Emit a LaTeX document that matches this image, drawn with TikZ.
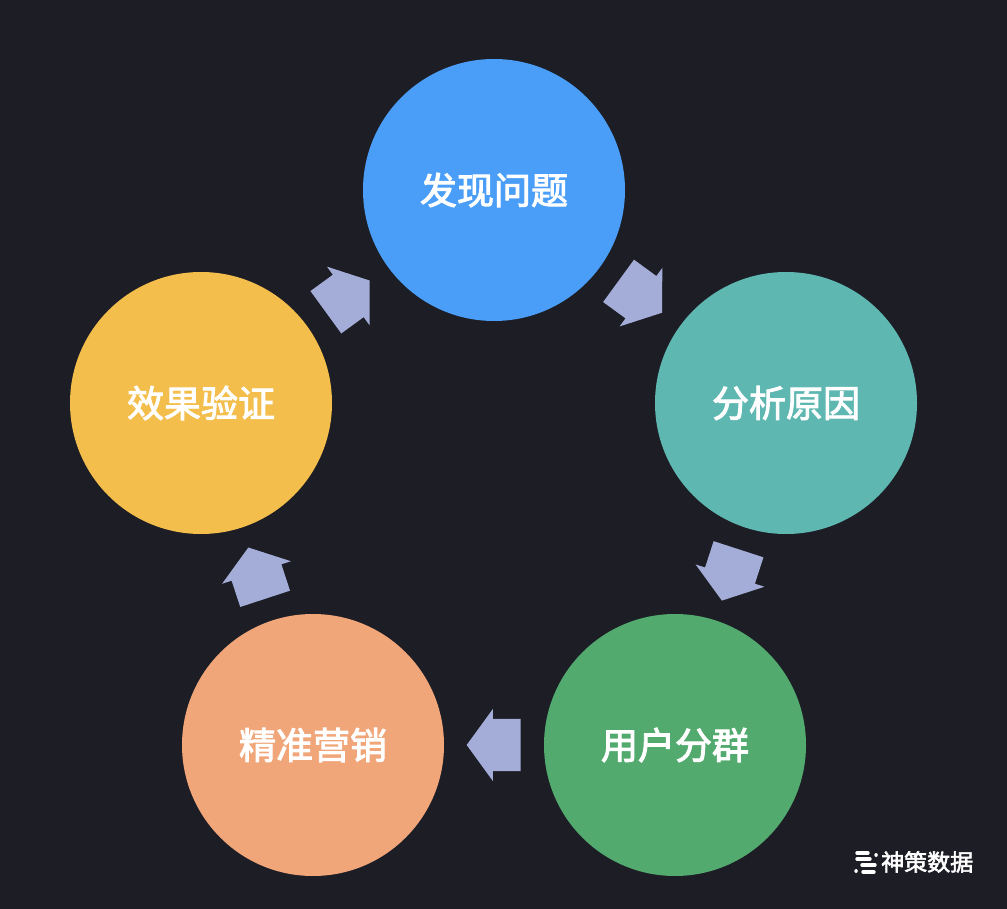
\documentclass[tikz,border=0pt]{standalone}
\usepackage{fontspec}
\newfontfamily\cjk[FakeBold=2.6]{Noto Sans CJK SC}
\usetikzlibrary{shapes.arrows}
\definecolor{bgdark}{HTML}{1C1D25}
\definecolor{findblue}{HTML}{4A9EF8}
\definecolor{causeteal}{HTML}{5FB7B2}
\definecolor{groupgreen}{HTML}{53AA6E}
\definecolor{mktorange}{HTML}{F1A67A}
\definecolor{checkyellow}{HTML}{F4BE4C}
\definecolor{flowgray}{HTML}{A4ADD8}
\begin{document}
\begin{tikzpicture}[x=1pt,y=-1pt,
	stage/.style={circle,minimum size=262pt,inner sep=0pt,text=white,font=\cjk\fontsize{37}{37}\selectfont},
	flow/.style={single arrow,fill=flowgray,inner xsep=0pt,inner ysep=26pt,minimum height=54pt,
		single arrow head extend=10pt,single arrow tip angle=108,sloped,allow upside down,anchor=tail,pos=.23}]
		\fill[bgdark](0,0) rectangle (1007,909);
		\useasboundingbox (0,0) rectangle (1007,909);
		% the five stages
		\node[stage,fill=findblue](find) at (494,190){发现问题};
		\node[stage,fill=causeteal](cause) at (786,403){分析原因};
		\node[stage,fill=groupgreen](group) at (675,745){用户分群};
		\node[stage,fill=mktorange](mkt) at (313,745){精准营销};
		\node[stage,fill=checkyellow](check) at (201,403){效果验证};
		% arrows between stages
		\path(find)--node[flow]{}(cause);
		\path(cause)--node[flow]{}(group);
		\path(group)--node[flow]{}(mkt);
		\path(mkt)--node[flow]{}(check);
		\path(check)--node[flow]{}(find);
		% logo
		\begin{scope}[white,line width=3.4pt,line cap=round]
			\draw(857,853)--(868,853);
			\draw(876,855)--(876.1,855);
			\draw(857,859)--(870,859);
			\draw(862,865)--(875,865);
			\draw(856,871)--(856.1,871);
			\draw(863,872)--(874,872);
		\end{scope}
		\node[text=white,font=\cjk\fontsize{23}{23}\selectfont,anchor=west,inner sep=0pt](brand) at (881,862){神策数据};
	    \end{tikzpicture}
\end{document}
